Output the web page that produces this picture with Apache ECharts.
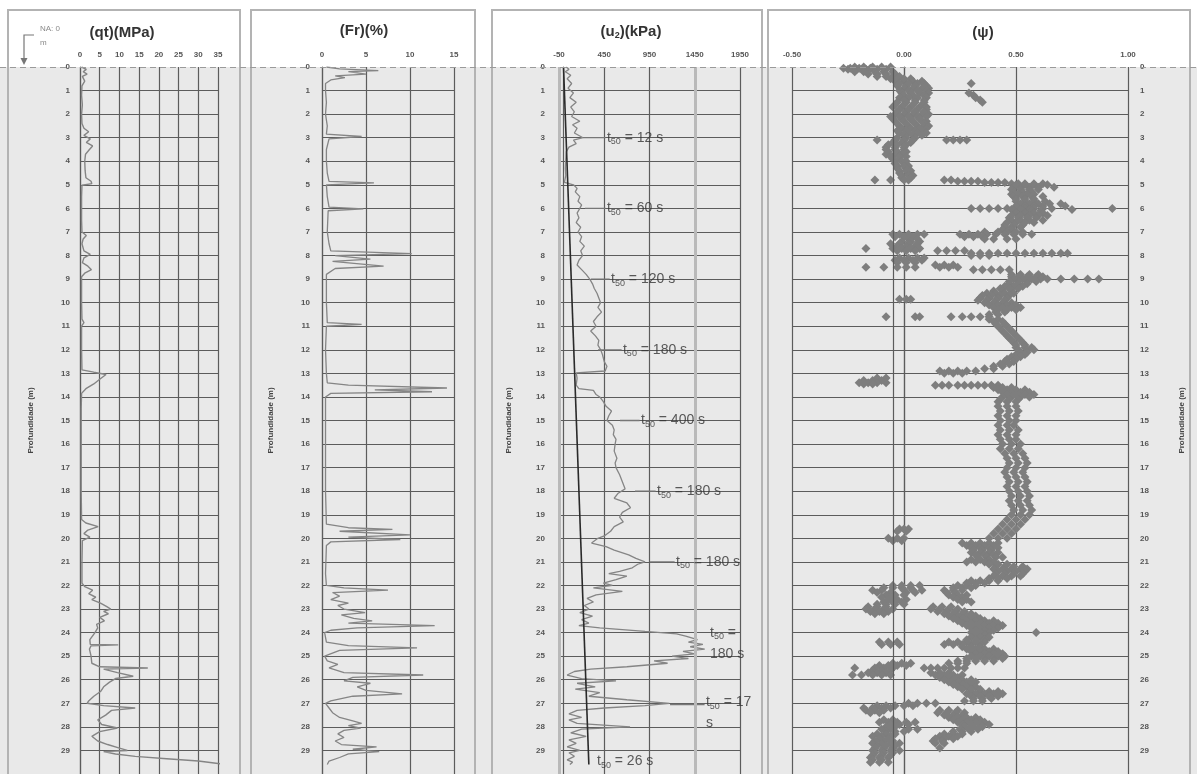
<!DOCTYPE html>
<html><head><meta charset="utf-8">
<script src="https://cdn.jsdelivr.net/npm/echarts@6/dist/echarts.min.js"></script>
<style>html,body{margin:0;padding:0;background:#fff}#c{width:1197px;height:774px}</style>
</head><body><div id="c"></div>
<script>
// ---- data: [depth (m), value] ----
const qtData = [[0.00,0.4],[0.10,1.6],[0.20,0.8],[0.30,1.8],[0.40,0.6],[0.60,1.2],[0.80,0.5],[1.20,0.4],[1.60,0.6],[2.00,0.4],[2.40,0.5],[2.60,1.0],[2.75,2.2],[2.90,1.0],[3.05,2.6],[3.20,1.6],[3.35,3.2],[3.50,2.4],[3.70,1.4],[4.00,1.2],[4.40,1.3],[4.70,1.5],[4.85,2.8],[4.95,3.0],[5.02,0.5],[5.5,0.4],[6.5,0.4],[7.00,0.5],[7.15,1.6],[7.30,0.8],[7.50,0.5],[7.80,1.0],[7.95,2.6],[8.10,1.0],[8.30,0.6],[8.45,2.0],[8.60,2.9],[8.75,1.2],[8.90,0.4],[10.0,0.4],[10.7,0.5],[10.85,1.0],[11.0,0.4],[12.0,0.4],[12.85,0.5],[12.95,3.5],[13.05,6.6],[13.25,5.0],[13.45,3.5],[13.65,1.5],[13.85,0.4],[14.5,0.3],[16,0.3],[18,0.3],[19.2,0.4],[19.35,1.5],[19.5,4.6],[19.65,2.0],[19.8,1.0],[19.95,2.5],[20.1,0.6],[21.0,0.5],[21.9,0.5],[22.05,1.2],[22.2,3.2],[22.35,2.2],[22.5,4.0],[22.6,3.0],[22.75,5.2],[22.9,6.8],[23.0,7.8],[23.1,6.0],[23.2,7.2],[23.35,5.0],[23.5,6.2],[23.65,4.2],[23.8,4.5],[24.0,3.8],[24.3,2.5],[24.5,2.6],[24.52,9.7],[24.56,2.8],[24.7,2.4],[25.0,2.8],[25.3,3.0],[25.45,5],[25.5,17.2],[25.55,6],[25.7,9.5],[25.85,13.5],[25.95,9],[26.1,7.5],[26.3,6.0],[26.5,5.2],[26.7,3.5],[26.9,2.2],[27.0,1.8],[27.1,6],[27.2,14.0],[27.3,8],[27.5,6.5],[27.7,4.5],[27.9,5.5],[28.05,9.5],[28.2,5],[28.4,3.0],[28.6,4.5],[28.75,7],[28.9,10],[29.0,12],[29.05,6],[29.15,9],[29.25,14],[29.35,22],[29.45,30],[29.6,37]];

const frData = [[0.0,0.5],[0.08,2.0],[0.15,6.4],[0.2,3.0],[0.3,5.0],[0.38,1.5],[0.45,2.6],[0.55,1.0],[0.7,0.4],[1.0,0.4],[1.5,0.5],[2.0,0.4],[2.5,0.6],[2.85,0.5],[2.95,4.5],[3.05,0.8],[3.5,0.5],[4.0,0.5],[4.5,0.6],[4.85,0.8],[4.92,5.9],[5.0,0.5],[5.5,0.6],[5.95,0.8],[6.02,4.7],[6.1,0.7],[7.0,0.6],[7.5,0.8],[7.8,1.0],[7.92,10.2],[8.0,1.5],[8.15,5.5],[8.25,1.2],[8.45,7.0],[8.55,1.5],[8.8,0.5],[10.0,0.5],[10.85,0.6],[10.92,4.5],[11.0,0.5],[12.0,0.4],[13.0,0.5],[13.4,0.6],[13.5,3],[13.62,14.2],[13.7,6],[13.78,12.5],[13.85,1],[14.0,0.4],[16,0.4],[18,0.4],[19.4,0.5],[19.55,3],[19.62,8.0],[19.7,2],[19.85,10.0],[19.95,3],[20.05,8.9],[20.15,1],[20.3,0.5],[21.5,0.4],[22.0,0.5],[22.1,2.5],[22.2,7.5],[22.3,1.2],[22.45,2.0],[22.6,1.0],[22.75,3.0],[22.85,1.8],[23.0,2.5],[23.15,4.9],[23.25,2.2],[23.4,3.6],[23.5,5.7],[23.6,3.0],[23.7,12.8],[23.8,4],[23.9,1],[24.0,0.3],[24.4,0.5],[24.55,3],[24.65,10.8],[24.75,2],[25.0,0.3],[25.2,0.6],[25.35,1.8],[25.5,0.8],[25.7,2.5],[25.8,11.5],[25.9,3.5],[26.05,2.5],[26.15,5.5],[26.3,4.0],[26.45,5.0],[26.6,9.1],[26.7,3.5],[26.9,1.0],[27.0,0.4],[27.2,0.8],[27.4,1.2],[27.6,2.0],[27.75,3.5],[27.85,4.5],[27.95,3.0],[28.05,4.4],[28.15,2.5],[28.3,1.8],[28.45,2.5],[28.6,1.5],[28.75,2.2],[28.85,6.2],[28.95,3.5],[29.05,6.5],[29.15,3],[29.3,2.0],[29.45,0.8],[29.6,0.6]];

const u2Data = [[0.0,30],[0.1,60],[0.2,20],[0.35,80],[0.5,40],[0.7,90],[0.9,50],[1.1,110],[1.3,70],[1.5,140],[1.7,80],[1.9,120],[2.1,90],[2.3,180],[2.45,100],[2.6,150],[2.8,120],[3.0,215],[3.1,110],[3.25,140],[3.4,60],[3.6,30],[3.9,25],[4.3,20],[4.6,25],[4.9,10],[5.0,110],[5.15,150],[5.3,130],[5.5,180],[5.7,160],[5.85,200],[6.0,180],[6.2,150],[6.4,170],[6.6,140],[6.8,190],[7.0,160],[7.2,200],[7.4,180],[7.6,230],[7.8,190],[8.0,210],[8.2,170],[8.4,150],[8.6,200],[8.8,250],[9.0,290],[9.2,320],[9.4,340],[9.6,370],[9.8,390],[10.0,410],[10.2,380],[10.4,420],[10.6,370],[10.8,330],[11.0,360],[11.2,300],[11.4,350],[11.6,390],[11.8,380],[12.0,410],[12.2,430],[12.5,450],[12.7,480],[12.9,460],[12.98,140],[13.2,150],[13.5,140],[13.65,170],[13.72,330],[13.9,360],[14.0,400],[14.2,440],[14.4,470],[14.6,530],[14.8,500],[15.0,480],[15.2,540],[15.4,560],[15.6,550],[15.8,580],[16.0,570],[16.3,560],[16.6,590],[16.8,570],[17.0,580],[17.3,620],[17.6,650],[17.9,680],[18.1,600],[18.3,560],[18.5,700],[18.7,740],[18.9,650],[19.1,620],[19.3,660],[19.5,560],[19.7,520],[19.9,450],[20.0,380],[20.2,310],[20.35,470],[20.5,560],[20.7,720],[20.85,800],[21.0,900],[21.1,820],[21.25,760],[21.4,620],[21.5,500],[21.6,700],[21.75,580],[21.9,440],[22.0,540],[22.1,330],[22.25,650],[22.4,360],[22.55,260],[22.7,330],[22.85,230],[23.0,280],[23.15,180],[23.3,320],[23.45,200],[23.6,280],[23.7,170],[23.8,400],[23.95,900],[24.05,1250],[24.15,1350],[24.3,1480],[24.4,1380],[24.5,1540],[24.6,1400],[24.7,1560],[24.8,1320],[24.9,1450],[25.0,1200],[25.1,1380],[25.2,1000],[25.3,1150],[25.45,700],[25.55,300],[25.65,120],[25.8,40],[25.95,200],[26.05,580],[26.15,150],[26.3,350],[26.4,130],[26.55,400],[26.7,280],[26.85,700],[27.0,1170],[27.1,900],[27.2,450],[27.3,150],[27.45,60],[27.6,200],[27.7,60],[27.85,150],[28.0,735],[28.1,200],[28.25,80],[28.4,250],[28.55,60],[28.7,140],[28.85,40],[29.0,180],[29.1,60],[29.25,120],[29.4,40],[29.5,100],[29.6,70]];

const u0Data = [[0,0],[29.6,280]];

// psi rows: [depth, [psi values at that depth]]
const psiRows = [
[0.00,[-0.22,-0.18,-0.14,-0.10,-0.06]],[0.05,[-0.27,-0.24,-0.20,-0.15]],[0.10,[-0.25,-0.21,-0.17,-0.12,-0.08]],[0.20,[-0.22,-0.18,-0.13,-0.09,-0.05]],[0.30,[-0.16,-0.12,-0.08,-0.04]],[0.40,[-0.12,-0.08,-0.05,-0.02]],[0.50,[-0.06,-0.03,0.00,0.03]],[0.60,[-0.04,0.00,0.04,0.08]],[0.70,[-0.02,0.02,0.06,0.09,0.30]],[0.80,[-0.03,0.01,0.05,0.10]],[0.90,[0.00,0.04,0.08,0.11]],
[1.00,[-0.02,0.02,0.06,0.10]],[1.10,[-0.01,0.03,0.07,0.11,0.29]],[1.20,[0.00,0.04,0.09,0.31]],[1.30,[-0.02,0.02,0.06,0.10,0.32]],[1.40,[0.00,0.05,0.09,0.34]],[1.50,[-0.03,0.01,0.05,0.09,0.35]],[1.60,[-0.04,0.00,0.04,0.08]],[1.70,[-0.05,-0.01,0.03,0.07,0.10]],[1.80,[-0.02,0.02,0.06,0.10]],[1.90,[-0.03,0.01,0.05,0.09]],
[2.00,[-0.04,0.00,0.04,0.08,0.11]],[2.10,[-0.06,-0.02,0.02,0.06,0.10]],[2.20,[-0.05,-0.01,0.03,0.07]],[2.30,[-0.04,0.00,0.04,0.08,0.10]],[2.40,[-0.03,0.01,0.05,0.09]],[2.50,[-0.02,0.02,0.06,0.09,0.11]],[2.60,[-0.01,0.03,0.07,0.10]],[2.70,[-0.03,0.01,0.05,0.08]],[2.80,[-0.02,0.02,0.06,0.10]],[2.90,[0.00,0.04,0.08]],
[3.00,[-0.03,0.01,0.05]],[3.10,[-0.12,-0.04,0.00,0.04,0.19,0.22,0.25,0.28]],[3.20,[-0.05,-0.01,0.03]],[3.30,[-0.07,-0.03,0.01]],[3.40,[-0.08,-0.04,0.00]],[3.50,[-0.08,-0.04,0.00]],[3.60,[-0.07,-0.03,0.01]],[3.70,[-0.08,-0.04,-0.01]],[3.80,[-0.06,-0.02,0.01]],[3.90,[-0.05,-0.02]],
[4.00,[-0.04,-0.01,0.01]],[4.10,[-0.04,0.00]],[4.20,[-0.03,0.00,0.02]],[4.30,[-0.03,0.01]],[4.40,[-0.02,0.01,0.03]],[4.50,[-0.02,0.02]],[4.60,[-0.01,0.02,0.04]],[4.70,[-0.01,0.03]],[4.80,[-0.13,-0.06,0.00,0.02,0.18,0.21]],[4.85,[0.24,0.27,0.30,0.33]],[4.90,[0.36,0.39,0.42,0.45]],[4.95,[0.48,0.51,0.54,0.58,0.62]],
[5.00,[0.50,0.54,0.58,0.64]],[5.10,[0.49,0.52,0.56,0.60,0.67]],[5.20,[0.48,0.52,0.56,0.60]],[5.30,[0.49,0.53,0.57]],[5.40,[0.48,0.51,0.55,0.58]],[5.50,[0.49,0.53,0.57,0.62]],[5.60,[0.50,0.54,0.58]],[5.70,[0.50,0.54,0.58,0.63]],[5.80,[0.52,0.56,0.60,0.65,0.70]],[5.90,[0.50,0.54,0.58,0.62,0.72]],
[6.00,[0.30,0.34,0.38,0.42,0.46,0.50,0.54,0.58,0.62,0.66,0.93]],[6.05,[0.48,0.52,0.56,0.75]],[6.10,[0.49,0.53,0.57,0.61]],[6.20,[0.50,0.54,0.58,0.62]],[6.30,[0.48,0.52,0.56,0.60,0.64]],[6.40,[0.47,0.51,0.55,0.59]],[6.50,[0.48,0.52,0.56,0.62]],[6.60,[0.46,0.50,0.54,0.58]],[6.70,[0.45,0.49,0.53]],[6.80,[0.45,0.48,0.52]],[6.90,[0.44,0.48]],
[7.00,[0.36,0.42,0.46,0.50,0.53]],[7.10,[-0.05,-0.02,0.02,0.06,0.09,0.25,0.29,0.33,0.37,0.41,0.45,0.49,0.53,0.57]],[7.20,[-0.04,0.00,0.04,0.27,0.31,0.35]],[7.30,[0.02,0.06,0.36,0.40,0.46,0.50]],[7.40,[-0.01,0.03,0.07]],[7.50,[-0.06,-0.02,0.02,0.06]],[7.60,[-0.03,0.01,0.05]],[7.70,[-0.17,-0.05,-0.01,0.03,0.07]],[7.80,[-0.03,0.01,0.05,0.15,0.19,0.23,0.27]],[7.90,[0.30,0.34,0.38,0.42,0.46,0.50,0.54,0.58,0.62,0.66,0.70,0.73]],
[8.00,[0.30,0.34,0.38]],[8.10,[-0.02,0.02,0.06,0.09]],[8.20,[-0.04,0.00,0.04,0.08]],[8.30,[-0.03,0.01,0.05]],[8.40,[0.14,0.18,0.22]],[8.50,[-0.17,-0.09,-0.03,0.01,0.05,0.16,0.20,0.24]],[8.60,[0.31,0.35,0.39,0.43,0.47]],[8.80,[0.48,0.52,0.56,0.60]],[8.90,[0.48,0.51,0.55,0.59,0.62]],
[9.00,[0.49,0.53,0.57,0.61,0.64,0.70,0.76,0.82,0.87]],[9.10,[0.47,0.51,0.55,0.59]],[9.20,[0.47,0.51,0.55]],[9.30,[0.45,0.49,0.53]],[9.40,[0.43,0.47,0.51]],[9.50,[0.40,0.44,0.48]],[9.60,[0.37,0.41,0.45,0.49]],[9.70,[0.35,0.39,0.43,0.47]],[9.80,[0.34,0.38,0.42,0.46]],[9.85,[-0.02,0.01,0.03]],[9.90,[0.33,0.37,0.41,0.45]],
[10.00,[0.36,0.40,0.44,0.48]],[10.10,[0.38,0.42,0.46,0.50]],[10.20,[0.40,0.44,0.48,0.52]],[10.30,[0.42,0.46,0.50]],[10.40,[0.41,0.45]],[10.50,[0.38,0.42]],[10.60,[-0.08,0.05,0.07,0.21,0.26,0.30,0.34,0.38]],[10.70,[0.38,0.42]],[10.80,[0.40,0.44]],[10.90,[0.41,0.45]],
[11.00,[0.42,0.46]],[11.10,[0.43,0.47]],[11.20,[0.44,0.48]],[11.30,[0.45,0.49]],[11.40,[0.46,0.50]],[11.50,[0.47,0.51]],[11.60,[0.48,0.52]],[11.70,[0.49,0.53]],[11.80,[0.50,0.54]],[11.90,[0.50,0.54,0.57]],
[12.00,[0.51,0.55,0.58]],[12.10,[0.52,0.55]],[12.20,[0.50,0.54]],[12.30,[0.48,0.52]],[12.40,[0.46,0.50]],[12.50,[0.45,0.49]],[12.60,[0.43,0.47]],[12.70,[0.40,0.44]],[12.80,[0.36,0.40]],[12.90,[0.16,0.20,0.24,0.28,0.32]],
[13.00,[0.18,0.22,0.26]],[13.20,[-0.12,-0.08]],[13.30,[-0.18,-0.14,-0.10]],[13.40,[-0.20,-0.16,-0.12,-0.08]],[13.45,[-0.18,-0.14]],[13.50,[0.14,0.17,0.20,0.24,0.27,0.30,0.33,0.36,0.39,0.42]],[13.60,[0.40,0.44,0.48]],[13.70,[0.42,0.46,0.50,0.54]],[13.80,[0.44,0.48,0.52,0.56]],[13.90,[0.46,0.50,0.54,0.58]],
[14.00,[0.44,0.48,0.52,0.56]],[14.10,[0.43,0.47,0.51]],[14.20,[0.42,0.46,0.50]],[14.40,[0.42,0.46,0.50]],[14.60,[0.43,0.47,0.51]],[14.80,[0.42,0.46,0.50]],
[15.00,[0.43,0.47,0.50]],[15.20,[0.42,0.46,0.49]],[15.40,[0.43,0.47,0.51]],[15.60,[0.42,0.46,0.50]],[15.80,[0.43,0.47,0.50]],
[16.00,[0.44,0.48,0.52]],[16.20,[0.43,0.47,0.51]],[16.40,[0.45,0.49,0.53]],[16.60,[0.46,0.50,0.54]],[16.80,[0.47,0.51,0.55]],
[17.00,[0.46,0.50,0.54]],[17.20,[0.45,0.49,0.53]],[17.40,[0.46,0.50,0.54]],[17.60,[0.47,0.51,0.55]],[17.80,[0.46,0.50,0.54]],
[18.00,[0.47,0.51,0.55]],[18.20,[0.48,0.52,0.56]],[18.40,[0.47,0.51,0.55]],[18.60,[0.48,0.52,0.56]],[18.80,[0.49,0.53,0.57]],
[19.00,[0.48,0.52,0.56]],[19.20,[0.46,0.50,0.54]],[19.40,[0.44,0.48,0.52]],[19.60,[-0.02,0.00,0.02,0.42,0.46,0.50]],[19.70,[-0.03,0.01]],[19.80,[0.40,0.44,0.48]],
[20.00,[-0.07,-0.03,0.00,0.38,0.42,0.46]],[20.10,[-0.05,-0.01]],[20.20,[0.26,0.30,0.34,0.38,0.42]],[20.30,[0.28,0.32,0.36,0.40]],[20.40,[0.30,0.34,0.38,0.42]],[20.50,[0.31,0.35,0.39]],[20.60,[0.30,0.34,0.38,0.42]],[20.70,[0.32,0.36,0.40]],[20.80,[0.33,0.37,0.41,0.44]],[20.90,[0.30,0.34,0.38]],
[21.00,[0.28,0.32,0.36,0.40]],[21.10,[0.38,0.42,0.46]],[21.20,[0.41,0.45,0.49,0.53]],[21.30,[0.40,0.44,0.48,0.52,0.55]],[21.40,[0.42,0.46,0.50,0.54]],[21.50,[0.41,0.45,0.49,0.53]],[21.60,[0.40,0.44,0.48,0.52]],[21.70,[0.38,0.42,0.46]],[21.80,[0.30,0.34,0.38,0.42]],[21.90,[0.28,0.32,0.36]],
[22.00,[-0.05,-0.01,0.03,0.07,0.24,0.28,0.32]],[22.10,[-0.09,-0.05,-0.01,0.03,0.22,0.26,0.30]],[22.20,[-0.14,-0.10,0.00,0.04,0.08,0.18,0.22,0.26]],[22.30,[-0.12,-0.06,0.01,0.05,0.19,0.23]],[22.40,[-0.08,-0.04,0.00,0.20,0.24,0.28]],[22.50,[-0.10,-0.06,0.22,0.26]],[22.60,[-0.07,-0.03,0.01,0.24,0.28]],[22.70,[-0.09,-0.05,-0.01,0.26,0.30]],[22.80,[-0.12,-0.08,-0.04,0.00]],[22.90,[-0.16,-0.12,-0.08,0.13,0.17,0.21]],
[23.00,[-0.17,-0.13,-0.09,-0.05,0.12,0.16,0.20,0.24]],[23.10,[-0.15,-0.11,-0.07,0.15,0.19,0.23,0.27]],[23.20,[-0.13,-0.09,0.18,0.22,0.26,0.30]],[23.30,[0.20,0.24,0.28,0.32]],[23.40,[0.22,0.26,0.30,0.34]],[23.50,[0.24,0.28,0.32,0.36,0.40]],[23.60,[0.26,0.30,0.34,0.38,0.42]],[23.70,[0.28,0.32,0.36,0.40,0.44]],[23.80,[0.30,0.34,0.38,0.42]],[23.90,[0.32,0.36,0.40]],
[24.00,[0.30,0.34,0.38,0.59]],[24.10,[0.32,0.36]],[24.20,[0.30,0.34,0.38]],[24.30,[0.28,0.32,0.36]],[24.40,[-0.11,-0.07,-0.03,0.20,0.24,0.28,0.32,0.36]],[24.50,[-0.10,-0.06,-0.02,0.18,0.22,0.26,0.30,0.34]],[24.60,[0.26,0.30,0.34]],[24.70,[0.28,0.32,0.36,0.40]],[24.80,[0.30,0.34,0.38,0.42]],[24.90,[0.32,0.36,0.40,0.44]],
[25.00,[0.30,0.34,0.38,0.42,0.45]],[25.10,[0.28,0.32,0.36,0.40,0.44]],[25.20,[0.24,0.28,0.32,0.36,0.40]],[25.30,[-0.05,-0.01,0.03,0.20,0.24,0.28]],[25.40,[-0.11,-0.07,-0.03,0.01]],[25.50,[-0.22,-0.13,-0.09,-0.05,0.09,0.12,0.15,0.18,0.21,0.24,0.27]],[25.60,[-0.14,-0.10,-0.06]],[25.70,[-0.16,-0.12,-0.08,0.12,0.16,0.20]],[25.80,[-0.23,-0.19,-0.14,-0.10,-0.06,0.14,0.18,0.22,0.26]],[25.90,[0.16,0.20,0.24]],
[26.00,[0.18,0.22,0.26,0.30]],[26.10,[0.20,0.24,0.28,0.32]],[26.20,[0.22,0.26,0.30]],[26.30,[0.24,0.28,0.32]],[26.40,[0.26,0.30,0.34]],[26.50,[0.30,0.34,0.38,0.42]],[26.60,[0.28,0.32,0.36,0.40,0.44]],[26.70,[0.30,0.34,0.38,0.42]],[26.80,[0.31,0.35,0.39]],[26.90,[0.27,0.31,0.35]],
[27.00,[0.02,0.06,0.10,0.14]],[27.10,[-0.12,-0.08,-0.04,0.00,0.04]],[27.20,[-0.18,-0.14,-0.10,-0.06]],[27.30,[-0.17,-0.13,-0.09,0.16,0.20,0.24]],[27.40,[-0.15,-0.11,0.15,0.19,0.23,0.27]],[27.50,[0.18,0.22,0.26]],[27.60,[0.20,0.24,0.28,0.32]],[27.70,[-0.09,-0.05,0.22,0.26,0.30,0.34]],[27.80,[-0.11,-0.07,-0.03,0.01,0.05,0.24,0.28,0.32,0.36]],[27.90,[-0.06,-0.02,0.02,0.26,0.30,0.34,0.38]],
[28.00,[-0.08,-0.04,0.27,0.31,0.35]],[28.10,[-0.10,-0.06,0.02,0.06,0.25,0.29,0.33]],[28.20,[-0.08,-0.04,0.00,0.22,0.26,0.30]],[28.30,[-0.12,-0.08,-0.04,0.18,0.22,0.26]],[28.40,[-0.14,-0.10,-0.06,0.16,0.20,0.24]],[28.50,[-0.11,-0.07,0.14,0.18,0.22]],[28.60,[-0.13,-0.09,-0.05,0.13,0.17]],[28.70,[-0.14,-0.10,-0.06,-0.02,0.14,0.18]],[28.80,[-0.12,-0.08,-0.04]],[28.90,[-0.13,-0.09,-0.05,0.16]],
[29.00,[-0.14,-0.10,-0.06,-0.02]],[29.10,[-0.13,-0.09,-0.05]],[29.20,[-0.14,-0.10,-0.06]],[29.30,[-0.15,-0.11,-0.07]],[29.40,[-0.14,-0.10]],[29.50,[-0.15,-0.11,-0.07]]
];

// t50 annotations (dissipation tests)
const t50Depth   = [3.0, 6.0, 9.0, 12.0, 15.0, 18.0, 21.0, 24.45, 27.4, 29.45];
const t50Line1   = ['= 12 s','= 60 s','= 120 s','= 180 s','= 400 s','= 180 s','= 180 s','=','= 17','= 26 s'];
const t50Line2   = ['','','','','','','','180 s','s',''];
const t50LabelU  = [480, 480, 525, 657, 856, 1033, 1243, 1619, 1574, 370];
const t50LeaderU = [215, 237, 303, 381, 624, 790, 956, null, 1177, null];
const t50LeaderDepth = [3.0, 6.0, 9.0, 12.0, 15.0, 18.0, 21.0, null, 27.05, null];

// axis definitions
const qtTicks = {min:0, max:35, interval:5};
const frTicks = {min:0, max:15, interval:5};
const u2Ticks = {min:-50, max:1950, interval:500};
const psiTicks = {min:-0.5, max:1.0, interval:0.5};
const depthMax = 30;
const depthTitle = 'Profundidade (m)';

// ---- chart ----
const FONT = 'Liberation Sans, Arial, sans-serif';
const TOP = 67, H = 717;
const GRIDC = '#5c5c5c';
const grids = [
  {left:80, width:138, top:TOP, height:H},
  {left:322, width:132, top:TOP, height:H},
  {left:559, width:181, top:TOP, height:H},
  {left:792, width:336, top:TOP, height:H}
];
function xAx(i, t, fmt){
  return {type:'value', gridIndex:i, position:'top', min:t.min, max:t.max, interval:t.interval,
    axisLine:{show:false}, axisTick:{show:false},
    axisLabel:{fontSize:8, fontWeight:'bold', color:'#555', margin:8, fontFamily:FONT, formatter:fmt},
    splitLine:{show:true, lineStyle:{color:GRIDC, width:1.2}}};
}
function yAx(i, pos, gap, margin){
  return {type:'value', gridIndex:i, inverse:true, min:0, max:depthMax, interval:1, position:pos,
    name:depthTitle, nameLocation:'middle', nameGap:gap, nameRotate:90,
    nameTextStyle:{fontSize:8, fontWeight:'bold', color:'#444', fontFamily:FONT},
    axisLine:{show:true, lineStyle:{color:GRIDC, width:1.2}}, axisTick:{show:false},
    axisLabel:{fontSize:8, fontWeight:'bold', color:'#555', margin:margin, fontFamily:FONT,
      formatter: v => Number.isInteger(v) && v < depthMax ? String(v) : ''},
    splitLine:{show:true, showMinLine:false, lineStyle:{color:GRIDC, width:1.2}}};
}

const psiData = [];
psiRows.forEach(r => r[1].forEach(p => psiData.push([p, r[0]])));

const labelRich = {
  t:{fontSize:14, color:'#333', fontFamily:FONT},
  s:{fontSize:9, color:'#333', fontFamily:FONT, padding:[8,0,0,0]},
  n:{fontSize:14, color:'#333', fontFamily:FONT}
};
const t50Points = t50Depth.map((d,i) => ({
  value:[t50LabelU[i], d],
  label:{formatter: '{t|t}{s|50}{n| ' + t50Line1[i] + '}' + (t50Line2[i] ? '\n{n|' + t50Line2[i] + '}' : '')}
}));
const leaderData = [];
t50Depth.forEach((d,i) => {
  if (t50LeaderU[i] !== null) {
    leaderData.push([t50LeaderU[i], t50LeaderDepth[i]]);
    leaderData.push([t50LabelU[i] - 15, t50LeaderDepth[i]]);
    leaderData.push(null);
  }
});

const chart = echarts.init(document.getElementById('c'), null, {renderer:'canvas'});
chart.setOption({
  animation:false,
  backgroundColor:'#ffffff',
  grid:grids,
  xAxis:[
    xAx(0, qtTicks, v => String(v)),
    xAx(1, frTicks, v => String(v)),
    xAx(2, u2Ticks, v => String(v)),
    xAx(3, psiTicks, v => v.toFixed(2))
  ],
  yAxis:[
    yAx(0,'left',45,10),
    yAx(1,'left',47,12),
    yAx(2,'left',46,14),
    yAx(3,'right',50,12)
  ],
  series:[
    {type:'line', xAxisIndex:0, yAxisIndex:0, data:qtData.map(d=>[d[1],d[0]]), symbol:'none',
      lineStyle:{color:'#858585', width:1.4}, z:3},
    {type:'line', xAxisIndex:1, yAxisIndex:1, data:frData.map(d=>[d[1],d[0]]), symbol:'none',
      lineStyle:{color:'#858585', width:1.3}, z:3},
    {type:'line', xAxisIndex:2, yAxisIndex:2, data:u2Data.map(d=>[d[1],d[0]]), symbol:'none',
      lineStyle:{color:'#858585', width:1.3}, z:3,
      markLine:{silent:true, symbol:'none', label:{show:false},
        lineStyle:{color:'#b9b9b9', width:3, type:'solid'},
        data:[{xAxis:-50},{xAxis:1450}]}},
    {type:'line', xAxisIndex:2, yAxisIndex:2, data:u0Data.map(d=>[d[1],d[0]]), symbol:'none',
      lineStyle:{color:'#2a2a2a', width:1.6}, z:4},
    {type:'line', xAxisIndex:2, yAxisIndex:2, data:leaderData, symbol:'none', connectNulls:false,
      lineStyle:{color:'#777', width:1.3}, z:4},
    {type:'scatter', xAxisIndex:2, yAxisIndex:2, data:t50Points, symbolSize:0, clip:false, z:6,
      label:{show:true, position:'right', distance:0, rich:labelRich, lineHeight:21}},
    {type:'scatter', xAxisIndex:3, yAxisIndex:3, data:psiData, symbol:'diamond', symbolSize:9,
      itemStyle:{color:'#7e7e7e', opacity:1}, z:3,
      markLine:{silent:true, symbol:'none', label:{show:false},
        lineStyle:{color:GRIDC, width:1.2, type:'solid'},
        data:[{xAxis:-0.05}]}}
  ],
  graphic:[
    {type:'rect', z:-1, silent:true, shape:{x:0,y:67,width:1197,height:710}, style:{fill:'#e9e9e9'}},
    {type:'rect', z:-1, silent:true, shape:{x:8,y:10,width:232,height:800}, style:{fill:'none', stroke:'#b3b3b3', lineWidth:2}},
    {type:'rect', z:-1, silent:true, shape:{x:251,y:10,width:224,height:800}, style:{fill:'none', stroke:'#b3b3b3', lineWidth:2}},
    {type:'rect', z:-1, silent:true, shape:{x:492,y:10,width:270,height:800}, style:{fill:'none', stroke:'#b3b3b3', lineWidth:2}},
    {type:'rect', z:-1, silent:true, shape:{x:768,y:10,width:422,height:800}, style:{fill:'none', stroke:'#b3b3b3', lineWidth:2}},
    {type:'line', z:50, silent:true, shape:{x1:0,y1:67.5,x2:1197,y2:67.5}, style:{stroke:'#9a9a9a', lineWidth:1.2, lineDash:[6,4]}},
    {type:'text', z:50, x:122, y:33, style:{text:'(qt)(MPa)', font:'bold 15px '+FONT, fill:'#333', align:'center', verticalAlign:'middle'}},
    {type:'text', z:50, x:364, y:31, style:{text:'(Fr)(%)', font:'bold 15px '+FONT, fill:'#333', align:'center', verticalAlign:'middle'}},
    {type:'text', z:50, x:631, y:32, style:{text:'{a|(u}{b|2}{a|)(kPa)}', align:'center', verticalAlign:'middle',
      rich:{a:{font:'bold 15px '+FONT, fill:'#333'}, b:{font:'bold 9px '+FONT, fill:'#333', padding:[8,0,0,0]}}}},
    {type:'text', z:50, x:983, y:33, style:{text:'(\u03c8)', font:'bold 15px '+FONT, fill:'#333', align:'center', verticalAlign:'middle'}},
    {type:'text', z:50, x:40, y:29, style:{text:'NA: 0', font:'8px '+FONT, fill:'#8a8a8a', verticalAlign:'middle'}},
    {type:'text', z:50, x:40, y:43, style:{text:'m', font:'8px '+FONT, fill:'#8a8a8a', verticalAlign:'middle'}},
    {type:'polyline', z:50, silent:true, shape:{points:[[34,35],[24,35],[24,60]]}, style:{stroke:'#777', lineWidth:1.2, fill:'none'}},
    {type:'polygon', z:50, silent:true, shape:{points:[[20.5,58],[27.5,58],[24,65]]}, style:{fill:'#777'}}
  ]
});
</script>
</body></html>
